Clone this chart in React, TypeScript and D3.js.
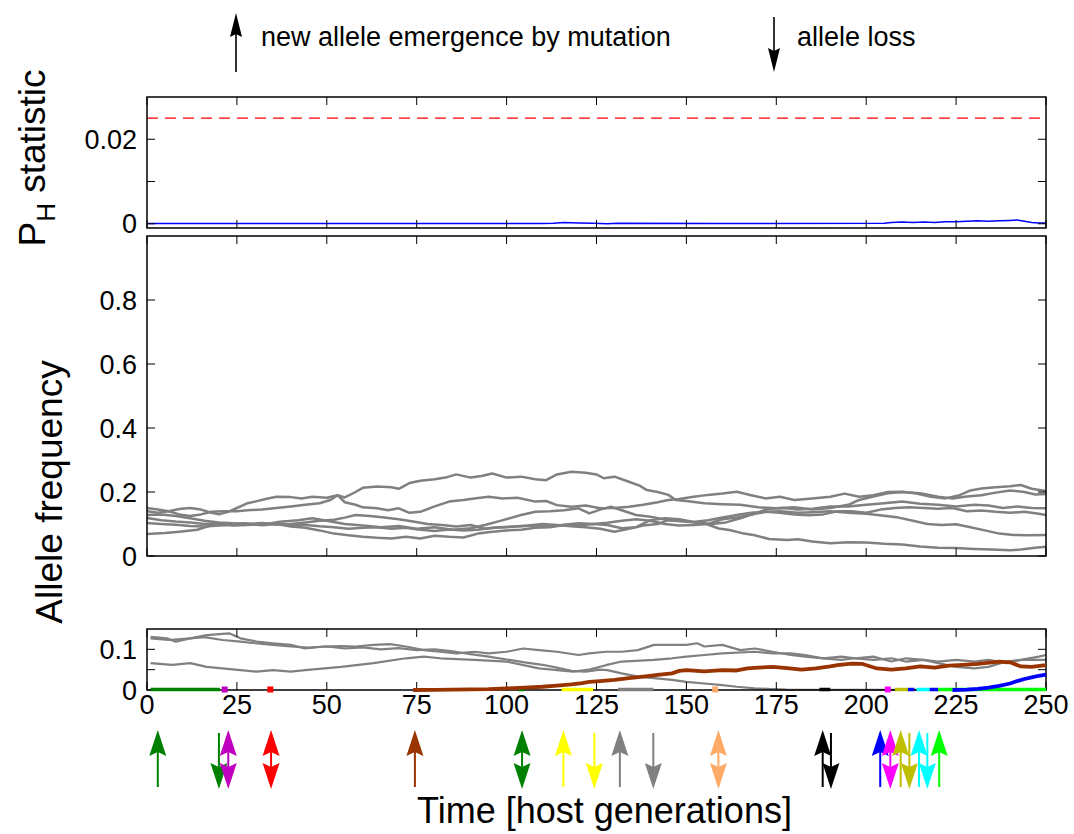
import React from 'react';
import * as d3 from 'd3';

// ---------- data ----------
const xTicks = [0, 25, 50, 75, 100, 125, 150, 175, 200, 225, 250];
const phTicks = [0, 0.01, 0.02];
const phTickLabels = ['0', '', '0.02'];
const midTicks = [0, 0.2, 0.4, 0.6, 0.8];
const midTickLabels = ['0', '0.2', '0.4', '0.6', '0.8'];
const botTicks = [0, 0.05, 0.1];
const botTickLabels = ['0', '', '0.1'];

const phThreshold = 0.025;
const phSeries: [number, number][] = [
  [0, 0.00005], [40, 0.00005], [80, 0.00005], [110, 0.00005], [113, 0.0001], [116, 0.0003], [120, 0.0002],
  [124, 0.0001], [128, 0.0], [131, 0.0001], [160, 0.00005], [205, 0.0001], [207, 0.0003], [210, 0.0004],
  [213, 0.0003], [216, 0.0004], [219, 0.0003], [222, 0.0005], [225, 0.0005], [228, 0.0006], [231, 0.0007],
  [234, 0.0006], [237, 0.0007], [240, 0.0008], [242, 0.0009], [244, 0.0006], [246, 0.0003], [248, 0.0002], [250, 0.0002],
];

const midLineA: [number, number][] = [
  [0, 0.14], [3, 0.135], [6, 0.14], [9, 0.147], [12, 0.15], [15, 0.145], [18, 0.135], [20, 0.13], [23, 0.14], [25, 0.15],
  [28, 0.165], [30, 0.17], [33, 0.178], [36, 0.185], [40, 0.184], [43, 0.18], [46, 0.185], [50, 0.182], [53, 0.19],
  [55, 0.183], [58, 0.2], [60, 0.213], [64, 0.217], [68, 0.215], [70, 0.21], [73, 0.228], [76, 0.235], [80, 0.24],
  [83, 0.245], [86, 0.255], [90, 0.245], [93, 0.25], [96, 0.258], [100, 0.245], [104, 0.248], [108, 0.24], [111, 0.237],
  [114, 0.255], [118, 0.263], [122, 0.26], [125, 0.255], [127, 0.243], [130, 0.248], [134, 0.232], [137, 0.22],
  [139, 0.206], [142, 0.2], [145, 0.191], [147, 0.175], [150, 0.172], [155, 0.165], [160, 0.162], [165, 0.16],
  [170, 0.152], [175, 0.149], [180, 0.152], [185, 0.145], [190, 0.15], [195, 0.16], [198, 0.175], [202, 0.186],
  [206, 0.196], [210, 0.2], [215, 0.196], [220, 0.185], [224, 0.18], [228, 0.186], [232, 0.19], [236, 0.198],
  [240, 0.205], [244, 0.2], [247, 0.192], [250, 0.194],
];
const midLineB: [number, number][] = [
  [0, 0.15], [3, 0.145], [6, 0.14], [9, 0.13], [12, 0.125], [15, 0.13], [18, 0.138], [21, 0.14], [25, 0.14],
  [28, 0.143], [32, 0.145], [36, 0.15], [40, 0.155], [44, 0.16], [48, 0.165], [51, 0.175], [53, 0.19], [55, 0.168],
  [58, 0.16], [60, 0.152], [64, 0.149], [67, 0.143], [70, 0.149], [73, 0.135], [76, 0.138], [80, 0.155], [84, 0.17],
  [88, 0.175], [91, 0.18], [95, 0.185], [99, 0.18], [103, 0.182], [108, 0.17], [111, 0.172], [114, 0.159], [118, 0.154],
  [122, 0.158], [126, 0.149], [130, 0.15], [134, 0.154], [138, 0.16], [142, 0.168], [145, 0.175], [148, 0.178],
  [152, 0.185], [156, 0.191], [160, 0.195], [164, 0.201], [168, 0.19], [172, 0.18], [176, 0.185], [180, 0.175],
  [185, 0.18], [190, 0.185], [194, 0.195], [198, 0.185], [202, 0.19], [206, 0.2], [210, 0.201], [214, 0.195],
  [218, 0.185], [222, 0.18], [226, 0.19], [229, 0.205], [232, 0.211], [236, 0.215], [240, 0.218], [243, 0.222],
  [246, 0.21], [250, 0.203],
];
const midLineC: [number, number][] = [
  [0, 0.128], [4, 0.13], [8, 0.125], [12, 0.118], [16, 0.11], [20, 0.105], [24, 0.102], [28, 0.1], [32, 0.103],
  [36, 0.098], [40, 0.1], [44, 0.105], [48, 0.11], [52, 0.113], [55, 0.12], [58, 0.128], [62, 0.125], [66, 0.12],
  [70, 0.115], [74, 0.108], [78, 0.1], [82, 0.097], [86, 0.092], [90, 0.097], [94, 0.085], [98, 0.09], [102, 0.092],
  [106, 0.095], [110, 0.1], [114, 0.097], [118, 0.093], [122, 0.09], [126, 0.085], [130, 0.076], [134, 0.085],
  [138, 0.095], [142, 0.1], [145, 0.112], [149, 0.11], [153, 0.105], [157, 0.1], [161, 0.105], [165, 0.118],
  [169, 0.133], [173, 0.148], [177, 0.15], [181, 0.145], [185, 0.148], [190, 0.155], [195, 0.155], [200, 0.16],
  [205, 0.165], [210, 0.17], [215, 0.163], [220, 0.16], [225, 0.155], [230, 0.16], [234, 0.158], [238, 0.15],
  [242, 0.155], [246, 0.15], [250, 0.149],
];
const midLineD: [number, number][] = [
  [0, 0.119], [4, 0.112], [8, 0.108], [12, 0.105], [16, 0.1], [20, 0.102], [24, 0.095], [28, 0.097], [32, 0.1],
  [36, 0.102], [40, 0.098], [44, 0.097], [48, 0.093], [52, 0.09], [56, 0.085], [60, 0.088], [64, 0.09], [68, 0.085],
  [72, 0.088], [76, 0.082], [80, 0.078], [84, 0.083], [88, 0.08], [92, 0.082], [96, 0.088], [100, 0.09], [104, 0.093],
  [108, 0.095], [112, 0.092], [116, 0.098], [120, 0.102], [124, 0.1], [128, 0.104], [132, 0.11], [136, 0.115],
  [140, 0.11], [144, 0.1], [148, 0.095], [152, 0.097], [156, 0.1], [160, 0.115], [164, 0.12], [168, 0.13],
  [172, 0.138], [176, 0.135], [180, 0.13], [184, 0.127], [188, 0.13], [192, 0.14], [196, 0.14], [200, 0.135],
  [204, 0.145], [208, 0.15], [212, 0.152], [216, 0.15], [220, 0.148], [224, 0.15], [228, 0.14], [232, 0.142],
  [236, 0.138], [240, 0.135], [244, 0.138], [248, 0.132], [250, 0.128],
];
const midLineE: [number, number][] = [
  [0, 0.103], [4, 0.1], [8, 0.098], [12, 0.094], [16, 0.092], [20, 0.095], [24, 0.097], [28, 0.1], [32, 0.096],
  [36, 0.1], [40, 0.092], [44, 0.088], [48, 0.08], [52, 0.07], [56, 0.065], [60, 0.06], [64, 0.057], [68, 0.055],
  [72, 0.06], [76, 0.055], [80, 0.063], [84, 0.06], [88, 0.058], [92, 0.07], [96, 0.076], [100, 0.08], [104, 0.082],
  [108, 0.088], [112, 0.09], [116, 0.097], [120, 0.095], [124, 0.1], [128, 0.097], [132, 0.087], [136, 0.09],
  [140, 0.112], [144, 0.118], [148, 0.115], [152, 0.106], [156, 0.112], [160, 0.12], [164, 0.128], [168, 0.135],
  [172, 0.138], [176, 0.14], [181, 0.135], [185, 0.137], [190, 0.14], [195, 0.135], [200, 0.132], [205, 0.126],
  [209, 0.12], [213, 0.11], [217, 0.1], [221, 0.097], [225, 0.099], [229, 0.09], [233, 0.08], [237, 0.07],
  [241, 0.066], [245, 0.065], [250, 0.066],
];
const midLineF: [number, number][] = [
  [0, 0.069], [5, 0.072], [9, 0.076], [14, 0.082], [18, 0.097], [23, 0.1], [27, 0.102], [32, 0.098], [37, 0.107],
  [42, 0.112], [46, 0.118], [50, 0.11], [55, 0.1], [60, 0.095], [65, 0.09], [70, 0.094], [75, 0.085], [80, 0.09],
  [85, 0.082], [90, 0.087], [94, 0.097], [99, 0.112], [104, 0.128], [108, 0.138], [112, 0.14], [116, 0.143],
  [120, 0.149], [123, 0.133], [126, 0.145], [129, 0.154], [132, 0.143], [136, 0.128], [140, 0.123], [145, 0.112],
  [150, 0.107], [155, 0.102], [159, 0.086], [162, 0.081], [166, 0.07], [169, 0.065], [173, 0.053], [178, 0.05],
  [181, 0.052], [185, 0.045], [190, 0.04], [195, 0.043], [200, 0.042], [205, 0.038], [210, 0.036], [215, 0.03],
  [220, 0.026], [225, 0.025], [230, 0.022], [235, 0.02], [240, 0.018], [243, 0.02], [247, 0.026], [250, 0.029],
];
const midLines = [midLineA, midLineB, midLineC, midLineD, midLineE, midLineF];

const lowLineA: [number, number][] = [
  [1, 0.131], [5.5, 0.127], [8, 0.119], [12, 0.127], [16.6, 0.135], [21, 0.138], [23, 0.139], [26, 0.127],
  [30.5, 0.119], [35, 0.115], [40, 0.111], [44, 0.102], [49, 0.107], [54, 0.108], [58, 0.107], [63, 0.111],
  [67.6, 0.113], [72, 0.107], [77, 0.098], [81.5, 0.094], [86, 0.09], [91, 0.094], [95, 0.09], [100, 0.094],
  [104.6, 0.102], [109, 0.098], [114, 0.094], [120, 0.086], [123, 0.09], [127.6, 0.094], [132, 0.094],
  [136.5, 0.098], [141, 0.111], [146, 0.111], [150, 0.111], [153, 0.115], [155, 0.107], [160, 0.111], [165, 0.098],
  [169, 0.102], [174, 0.094], [179, 0.086], [183, 0.082], [188, 0.078], [193, 0.074], [197, 0.078], [202, 0.082],
  [207, 0.07], [211, 0.078], [216, 0.074], [220, 0.066], [225, 0.057], [230, 0.053], [234, 0.057], [239, 0.07],
  [243, 0.074], [248, 0.082], [250, 0.086],
];
const lowLineB: [number, number][] = [
  [1, 0.127], [6, 0.123], [12, 0.127], [16, 0.13], [21, 0.123], [26, 0.119], [30, 0.115], [35, 0.111], [40, 0.107],
  [45, 0.104], [50, 0.107], [55, 0.102], [60, 0.105], [65, 0.1], [70, 0.103], [75, 0.098], [80, 0.1], [85, 0.095],
  [90, 0.088], [95, 0.082], [100, 0.075], [105, 0.068], [110, 0.062], [114, 0.055], [118, 0.047], [122, 0.045],
  [126, 0.05], [128, 0.049], [132, 0.041], [136.5, 0.033], [141, 0.029], [146, 0.025], [150, 0.02], [155, 0.016],
  [160, 0.012], [164, 0.008], [169, 0.004], [174, 0.002], [178, 0.001], [200, 0.0005], [250, 0.0005],
];
const lowLineC: [number, number][] = [
  [1, 0.066], [7, 0.062], [12, 0.066], [16.6, 0.057], [26, 0.049], [30.5, 0.045], [35, 0.049], [40, 0.045],
  [44, 0.049], [54, 0.057], [63, 0.066], [72, 0.078], [77, 0.082], [81.5, 0.078], [91, 0.074], [100, 0.07],
  [109, 0.053], [118.5, 0.045], [123, 0.05], [127.6, 0.061], [132, 0.07], [141, 0.074], [146, 0.078], [150, 0.082],
  [155, 0.086], [160, 0.09], [169, 0.094], [174, 0.09], [179, 0.09], [183, 0.086], [188, 0.078], [193, 0.082],
  [197, 0.078], [202, 0.074], [207, 0.078], [211, 0.07], [216, 0.074], [220, 0.07], [225, 0.074], [230, 0.07],
  [234, 0.074], [239, 0.066], [243, 0.074], [250, 0.074],
];
const lowGrayLines = [lowLineA, lowLineB, lowLineC];

const brownSeries: [number, number][] = [
  [74, 0], [80, 0.0005], [85, 0.001], [90, 0.0015], [95, 0.002], [100, 0.004], [105, 0.006], [110, 0.008],
  [114, 0.011], [118, 0.014], [121, 0.017], [123, 0.02], [126, 0.022], [130, 0.025], [134, 0.029], [138, 0.033],
  [142, 0.037], [146, 0.041], [148, 0.047], [150, 0.049], [155, 0.046], [160, 0.049], [164, 0.048], [167, 0.053],
  [170, 0.055], [174, 0.057], [178, 0.054], [182, 0.05], [186, 0.053], [190, 0.058], [192, 0.061], [196, 0.065],
  [199, 0.064], [203, 0.053], [207, 0.05], [211, 0.053], [215, 0.058], [219, 0.055], [223, 0.06], [227, 0.062],
  [231, 0.064], [235, 0.068], [237, 0.07], [240, 0.068], [243, 0.058], [246, 0.057], [250, 0.061],
];
const blueSeries: [number, number][] = [
  [224, 0], [228, 0.001], [231, 0.003], [234, 0.006], [237, 0.01], [240, 0.016], [242, 0.022], [244, 0.027],
  [246, 0.031], [248, 0.035], [250, 0.038],
];

// alleles that stayed at (near) zero frequency: [start, end, colour]
const zeroSegStart = [1, 103.2, 115.3, 131, 187, 208, 211.6, 214, 217.7, 220];
const zeroSegEnd = [20.3, 105, 124.1, 140.8, 190, 211.6, 213.4, 217.7, 220, 250];
const zeroSegColor = ['#008000', '#008000', '#FFFF00', '#808080', '#000000', '#BFBF00', '#0000FF', '#00FFFF', '#0000FF', '#00FF00'];
// single-generation alleles (square markers)
const markGen = [21.6, 34.3, 158, 206];
const markColor = ['#BF00BF', '#FF0000', '#FFAA66', '#FF00FF'];

// arrows under the axis: generation, colour, kind
const arrowGen = [3, 20, 22.6, 34.5, 74.5, 104.3, 115.8, 124.4, 131.5, 140.8, 158.9, 187.9, 190.2, 203.9, 206.7, 209.6, 212, 214.7, 217, 220.3];
const arrowColor = ['#008000', '#008000', '#BF00BF', '#FF0000', '#993300', '#008000', '#FFFF00', '#FFFF00', '#808080', '#808080',
  '#FFAA66', '#000000', '#000000', '#0000FF', '#FF00FF', '#BFBF00', '#BFBF00', '#00FFFF', '#00FFFF', '#00FF00'];
const arrowKind = ['up', 'down', 'both', 'both', 'up', 'both', 'up', 'down', 'up', 'down',
  'both', 'up', 'down', 'up', 'both', 'up', 'down', 'up', 'down', 'up'];

// ---------- layout ----------
const W = 1074;
const H = 834;
const FONT = 'Liberation Sans, Arial, Helvetica, sans-serif';
const x = d3.scaleLinear().domain([0, 250]).range([147, 1046]);
const yTop = d3.scaleLinear().domain([-0.001, 0.03]).range([228, 97]);
const yMid = d3.scaleLinear().domain([0, 1]).range([556, 236]);
const yBot = d3.scaleLinear().domain([0, 0.15]).range([690, 629]);

function arrowPath(cx: number, y1: number, y2: number, headTop: boolean, headBottom: boolean, hw: number, hl: number, notch: number) {
  let d = '';
  if (headTop) {
    d += `M${cx},${y1} L${cx + hw},${y1 + hl} L${cx},${y1 + hl - notch} L${cx - hw},${y1 + hl} Z `;
  }
  if (headBottom) {
    d += `M${cx},${y2} L${cx + hw},${y2 - hl} L${cx},${y2 - hl + notch} L${cx - hw},${y2 - hl} Z `;
  }
  return d;
}

function Arrow({ cx, y1, y2, headTop, headBottom, color, hw, hl, notch, sw }: any) {
  const s1 = headTop ? y1 + hl - notch : y1;
  const s2 = headBottom ? y2 - hl + notch : y2;
  return (
    <g>
      <line x1={cx} x2={cx} y1={s1} y2={s2} stroke={color} strokeWidth={sw} />
      <path d={arrowPath(cx, y1, y2, headTop, headBottom, hw, hl, notch)} fill={color} stroke="none" />
    </g>
  );
}

function Frame({ y, ticksY, tickLabels, showXLabels }: any) {
  const [y0, y1] = y.range(); // bottom, top
  const L = 147, R = 1046, tl = 8;
  return (
    <g>
      {xTicks.map((t) => (
        <g key={'xt' + t}>
          <line x1={x(t)} x2={x(t)} y1={y0} y2={y0 - tl} stroke="#000" strokeWidth={1} />
          <line x1={x(t)} x2={x(t)} y1={y1} y2={y1 + tl} stroke="#000" strokeWidth={1} />
          {showXLabels && (
            <text x={x(t)} y={y0 + 24} textAnchor="middle" fontSize={27} fontFamily={FONT}>{t}</text>
          )}
        </g>
      ))}
      {ticksY.map((t: number, i: number) => (
        <g key={'yt' + i}>
          <line x1={L} x2={L + tl} y1={y(t)} y2={y(t)} stroke="#000" strokeWidth={1} />
          <line x1={R} x2={R - tl} y1={y(t)} y2={y(t)} stroke="#000" strokeWidth={1} />
          {tickLabels[i] !== '' && (
            <text x={L - 10} y={y(t)} dy="0.36em" textAnchor="end" fontSize={27} fontFamily={FONT}>{tickLabels[i]}</text>
          )}
        </g>
      ))}
      <rect x={L} y={y1} width={R - L} height={y0 - y1} fill="none" stroke="#000" strokeWidth={1.5} />
    </g>
  );
}

export default function App() {
  const lineOf = (ys: any) => d3.line<[number, number]>().x((d) => x(d[0])).y((d) => ys(d[1]));
  const midGen = lineOf(yMid);
  const botGen = lineOf(yBot);
  const topGen = lineOf(yTop);

  return (
    <div style={{ position: 'absolute', left: 0, top: 0 }}>
      <svg width={W} height={H} viewBox={`0 0 ${W} ${H}`} style={{ display: 'block', background: '#fff' }}>
        {/* legend */}
        <Arrow cx={236} y1={13} y2={72} headTop headBottom={false} color="#000" hw={6} hl={24} notch={3} sw={1.6} />
        <text x={261} y={46} fontSize={27} fontFamily={FONT}>new allele emergence by mutation</text>
        <Arrow cx={774} y1={17} y2={72} headTop={false} headBottom color="#000" hw={6} hl={24} notch={3} sw={1.6} />
        <text x={797} y={46} fontSize={27} fontFamily={FONT}>allele loss</text>

        {/* top panel: P_H */}
        <line x1={x(0)} x2={x(250)} y1={yTop(phThreshold)} y2={yTop(phThreshold)} stroke="#FF0000" strokeWidth={1.3} strokeDasharray="11,7" />
        <path d={topGen(phSeries) || ''} fill="none" stroke="#0000FF" strokeWidth={1.5} />
        <Frame y={yTop} ticksY={phTicks} tickLabels={phTickLabels} showXLabels={false} />
        <text transform={`translate(45, 158) rotate(-90)`} textAnchor="middle" fontSize={37} fontFamily={FONT}>
          <tspan>P</tspan>
          <tspan fontSize={26} dy={10}>H</tspan>
          <tspan dy={-10}> statistic</tspan>
        </text>

        {/* middle panel */}
        {midLines.map((ln, i) => (
          <path key={'m' + i} d={midGen(ln) || ''} fill="none" stroke="#808080" strokeWidth={2.5} strokeLinejoin="round" />
        ))}
        <Frame y={yMid} ticksY={midTicks} tickLabels={midTickLabels} showXLabels={false} />

        {/* bottom panel */}
        {lowGrayLines.map((ln, i) => (
          <path key={'b' + i} d={botGen(ln) || ''} fill="none" stroke="#808080" strokeWidth={2.2} strokeLinejoin="round" />
        ))}
        <Frame y={yBot} ticksY={botTicks} tickLabels={botTickLabels} showXLabels={true} />
        {zeroSegStart.map((s, i) => (
          <line key={'z' + i} x1={x(s)} x2={x(zeroSegEnd[i])} y1={yBot(0) - 0.5} y2={yBot(0) - 0.5} stroke={zeroSegColor[i]} strokeWidth={3.5} />
        ))}
        {markGen.map((g, i) => (
          <rect key={'mk' + i} x={x(g) - 3} y={yBot(0) - 3.5} width={6} height={6} fill={markColor[i]} />
        ))}
        <path d={botGen(brownSeries) || ''} fill="none" stroke="#993300" strokeWidth={3.8} strokeLinejoin="round" />
        <path d={botGen(blueSeries) || ''} fill="none" stroke="#0000FF" strokeWidth={3.8} strokeLinejoin="round" />

        <text transform={`translate(62, 492) rotate(-90)`} textAnchor="middle" fontSize={37} fontFamily={FONT}>Allele frequency</text>

        {/* event arrows */}
        {arrowGen.map((g, i) => {
          const k = arrowKind[i];
          const y1 = k === 'down' ? 733 : 730;
          const y2 = k === 'up' ? 787 : 789;
          return (
            <Arrow key={'a' + i} cx={x(g)} y1={y1} y2={y2} headTop={k !== 'down'} headBottom={k !== 'up'}
              color={arrowColor[i]} hw={8.5} hl={26} notch={4} sw={2} />
          );
        })}

        <text x={(x(0) + x(250)) / 2 + 8} y={823} textAnchor="middle" fontSize={36} fontFamily={FONT}>Time [host generations]</text>
      </svg>
    </div>
  );
}
